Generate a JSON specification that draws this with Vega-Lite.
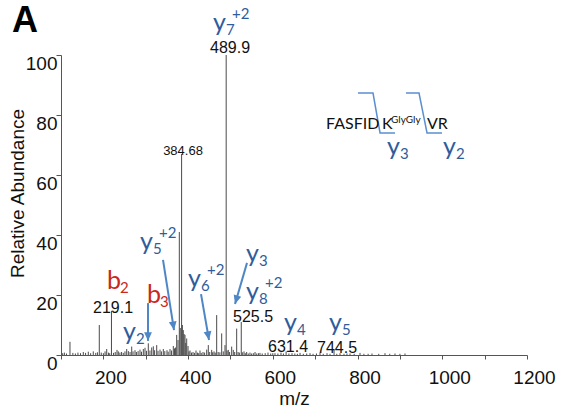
{
  "$schema": "https://vega.github.io/schema/vega-lite/v6.json",
  "width": 466,
  "height": 300,
  "autosize": "none",
  "padding": {"left": 61, "top": 55, "right": 36, "bottom": 58},
  "background": "white",
  "title": {"text": "A", "anchor": "start", "frame": "group", "fontSize": 36, "fontWeight": "bold", "font": "Liberation Sans", "color": "#000", "dx": -49, "dy": 33, "offset": 0},
  "config": {"view": {"stroke": null}},
  "datasets": {
    "peaks": [
      {"mz": 104, "ab": 0.6}, {"mz": 108, "ab": 0.8}, {"mz": 113, "ab": 0.5}, {"mz": 121.2, "ab": 4.4}, {"mz": 128, "ab": 0.7}, {"mz": 134, "ab": 0.5}, {"mz": 140, "ab": 0.8}, {"mz": 146, "ab": 0.6}, {"mz": 152.6, "ab": 1}, {"mz": 158, "ab": 0.7}, {"mz": 164.4, "ab": 1.1}, {"mz": 170, "ab": 0.6}, {"mz": 176.2, "ab": 1.2}, {"mz": 182, "ab": 0.7}, {"mz": 186, "ab": 0.9}, {"mz": 190.4, "ab": 10}, {"mz": 195, "ab": 0.8}, {"mz": 200, "ab": 0.6}, {"mz": 204, "ab": 1.2}, {"mz": 207.9, "ab": 2}, {"mz": 212, "ab": 0.8}, {"mz": 215, "ab": 0.6}, {"mz": 219.1, "ab": 14.7}, {"mz": 224, "ab": 0.7}, {"mz": 228, "ab": 1}, {"mz": 232.2, "ab": 1.7}, {"mz": 235.3, "ab": 1.2}, {"mz": 239, "ab": 0.8}, {"mz": 243, "ab": 1}, {"mz": 247, "ab": 0.7}, {"mz": 251, "ab": 1.2}, {"mz": 255.1, "ab": 2}, {"mz": 259, "ab": 1.3}, {"mz": 263, "ab": 1.0}, {"mz": 266.9, "ab": 2.8}, {"mz": 270, "ab": 1.2}, {"mz": 274.7, "ab": 1.6}, {"mz": 278, "ab": 1.0}, {"mz": 282, "ab": 1.3}, {"mz": 286.5, "ab": 1.8}, {"mz": 290, "ab": 1.1}, {"mz": 294.3, "ab": 2}, {"mz": 298.3, "ab": 2.4}, {"mz": 302, "ab": 1.4}, {"mz": 306.1, "ab": 3.9}, {"mz": 310, "ab": 1.5}, {"mz": 314.1, "ab": 2.5}, {"mz": 317.9, "ab": 2.9}, {"mz": 321, "ab": 1.6}, {"mz": 325.9, "ab": 3.3}, {"mz": 329, "ab": 1.4}, {"mz": 333.7, "ab": 1.8}, {"mz": 337, "ab": 1.2}, {"mz": 341.5, "ab": 2}, {"mz": 345, "ab": 1.3}, {"mz": 350.2, "ab": 1.6}, {"mz": 353, "ab": 1.1}, {"mz": 357.3, "ab": 2}, {"mz": 361, "ab": 1.5}, {"mz": 365.1, "ab": 3}, {"mz": 368, "ab": 2.2}, {"mz": 370.5, "ab": 2.5}, {"mz": 373.1, "ab": 6.7}, {"mz": 376.2, "ab": 5}, {"mz": 379.3, "ab": 41}, {"mz": 381.5, "ab": 9}, {"mz": 384.68, "ab": 67}, {"mz": 386.5, "ab": 10}, {"mz": 388.7, "ab": 8.3}, {"mz": 390.5, "ab": 7}, {"mz": 392.7, "ab": 6.7}, {"mz": 394.5, "ab": 4}, {"mz": 396.7, "ab": 5.5}, {"mz": 399.8, "ab": 3}, {"mz": 402, "ab": 1.2}, {"mz": 404.5, "ab": 1.5}, {"mz": 408, "ab": 0.8}, {"mz": 411.6, "ab": 1}, {"mz": 415, "ab": 0.7}, {"mz": 418.7, "ab": 1.5}, {"mz": 422, "ab": 0.8}, {"mz": 425, "ab": 0.6}, {"mz": 428.1, "ab": 1.5}, {"mz": 431, "ab": 0.7}, {"mz": 435.2, "ab": 1}, {"mz": 439, "ab": 0.8}, {"mz": 443.9, "ab": 1.8}, {"mz": 447.7, "ab": 3.3}, {"mz": 451, "ab": 1.0}, {"mz": 455.7, "ab": 1.7}, {"mz": 458, "ab": 0.9}, {"mz": 461.2, "ab": 1.2}, {"mz": 464, "ab": 0.8}, {"mz": 467.5, "ab": 13.3}, {"mz": 471, "ab": 1.0}, {"mz": 475, "ab": 0.9}, {"mz": 479.3, "ab": 7.2}, {"mz": 483, "ab": 1.2}, {"mz": 487.1, "ab": 3.3}, {"mz": 489.9, "ab": 100}, {"mz": 492, "ab": 1.5}, {"mz": 494.9, "ab": 1.7}, {"mz": 498, "ab": 1.0}, {"mz": 502.9, "ab": 2.8}, {"mz": 506.7, "ab": 1.7}, {"mz": 510, "ab": 1.0}, {"mz": 514.7, "ab": 8.8}, {"mz": 518, "ab": 1.0}, {"mz": 521, "ab": 0.8}, {"mz": 525.5, "ab": 11}, {"mz": 528, "ab": 0.9}, {"mz": 532, "ab": 1.2}, {"mz": 535, "ab": 0.6}, {"mz": 538.3, "ab": 1}, {"mz": 542, "ab": 0.5}, {"mz": 546.1, "ab": 0.8}, {"mz": 550, "ab": 0.5}, {"mz": 554, "ab": 0.6}, {"mz": 558, "ab": 1}, {"mz": 562, "ab": 0.5}, {"mz": 566, "ab": 0.6}, {"mz": 569.7, "ab": 0.7}, {"mz": 575, "ab": 0.5}, {"mz": 582, "ab": 0.6}, {"mz": 588.6, "ab": 0.8}, {"mz": 595, "ab": 0.5}, {"mz": 600, "ab": 0.6}, {"mz": 605.1, "ab": 0.6}, {"mz": 612, "ab": 0.5}, {"mz": 619.3, "ab": 0.8}, {"mz": 625, "ab": 0.5}, {"mz": 631.4, "ab": 1.2}, {"mz": 638, "ab": 0.5}, {"mz": 645.3, "ab": 0.6}, {"mz": 652, "ab": 0.5}, {"mz": 658, "ab": 0.4}, {"mz": 664.2, "ab": 0.7}, {"mz": 672, "ab": 0.4}, {"mz": 680, "ab": 0.5}, {"mz": 687.8, "ab": 0.6}, {"mz": 695, "ab": 0.4}, {"mz": 703, "ab": 0.5}, {"mz": 711.4, "ab": 0.8}, {"mz": 719, "ab": 0.4}, {"mz": 727.9, "ab": 0.6}, {"mz": 735, "ab": 0.4}, {"mz": 744.5, "ab": 1.7}, {"mz": 751, "ab": 0.4}, {"mz": 758.6, "ab": 0.6}, {"mz": 768, "ab": 0.4}, {"mz": 775, "ab": 0.5}, {"mz": 782.2, "ab": 0.5}, {"mz": 792, "ab": 0.4}, {"mz": 805.8, "ab": 0.7}, {"mz": 815, "ab": 0.4}, {"mz": 825, "ab": 0.4}, {"mz": 834.1, "ab": 0.5}, {"mz": 850, "ab": 0.4}, {"mz": 864.8, "ab": 0.6}, {"mz": 876, "ab": 0.4}, {"mz": 888.4, "ab": 0.5}, {"mz": 900, "ab": 0.4}, {"mz": 912, "ab": 0.5}
    ],
    "numbers": [
      {"text": "489.9", "mz": 499.0, "ab": 100.7, "kind": "big"},
      {"text": "384.68", "mz": 388.0, "ab": 66.7, "kind": "small"},
      {"text": "219.1", "mz": 222.8, "ab": 14, "kind": "big"},
      {"text": "525.5", "mz": 553.3, "ab": 11, "kind": "big"},
      {"text": "631.4", "mz": 635.9, "ab": 1, "kind": "big"},
      {"text": "744.5", "mz": 751.6, "ab": 0.7, "kind": "big"}
    ],
    "ions": [
      {"ion": "y", "sub": "7", "sup": "+2", "series": "y", "mz": 458.8, "ab": 108},
      {"ion": "b", "sub": "2", "sup": "", "series": "b", "mz": 208.6, "ab": 22},
      {"ion": "b", "sub": "3", "sup": "", "series": "b", "mz": 303.0, "ab": 17.3},
      {"ion": "y", "sub": "2", "sup": "", "series": "y", "mz": 246.4, "ab": 5},
      {"ion": "y", "sub": "5", "sup": "+2", "series": "y", "mz": 286.5, "ab": 35},
      {"ion": "y", "sub": "6", "sup": "+2", "series": "y", "mz": 399.8, "ab": 22.7},
      {"ion": "y", "sub": "3", "sup": "", "series": "y", "mz": 536.7, "ab": 31},
      {"ion": "y", "sub": "8", "sup": "+2", "series": "y", "mz": 536.7, "ab": 18.3},
      {"ion": "y", "sub": "4", "sup": "", "series": "y", "mz": 626.4, "ab": 8},
      {"ion": "y", "sub": "5", "sup": "", "series": "y", "mz": 732.7, "ab": 8},
      {"ion": "y", "sub": "3", "sup": "", "series": "y", "mz": 869.6, "ab": 66.7},
      {"ion": "y", "sub": "2", "sup": "", "series": "y", "mz": 1001.8, "ab": 66.7}
    ],
    "arrows": [
      {"mz": 305.4, "ab": 17.3, "mz2": 305.4, "ab2": 4.7, "heading": 0},
      {"mz": 340.8, "ab": 31.7, "mz2": 366.8, "ab2": 8.3, "heading": -8.9},
      {"mz": 430.5, "ab": 20.3, "mz2": 449.4, "ab2": 5, "heading": -9.9},
      {"mz": 539.1, "ab": 30.7, "mz2": 510.8, "ab2": 17, "heading": 16.3}
    ],
    "bracket": [
      {"g": "a", "o": 1, "mz": 801.1, "ab": 87.3}, {"g": "a", "o": 2, "mz": 836.5, "ab": 87.3}, {"g": "a", "o": 3, "mz": 853.1, "ab": 74}, {"g": "a", "o": 4, "mz": 888.5, "ab": 74},
      {"g": "b", "o": 1, "mz": 914.4, "ab": 87.3}, {"g": "b", "o": 2, "mz": 945.1, "ab": 87.3}, {"g": "b", "o": 3, "mz": 964.0, "ab": 74}, {"g": "b", "o": 4, "mz": 999.4, "ab": 74}
    ],
    "peptide": [
      {"text": "FASFID", "mz": 725.6, "ab": 75.3, "part": "main"},
      {"text": "K", "mz": 857.8, "ab": 75.3, "part": "main"},
      {"text": "VR", "mz": 964.0, "ab": 75.3, "part": "main"},
      {"text": "GlyGly", "mz": 879.0, "ab": 77.3, "part": "sup"}
    ]
  },
  "layer": [
    {
      "data": {"name": "peaks"},
      "mark": {"type": "rule", "color": "#4a4a4a", "strokeWidth": 1},
      "encoding": {
        "x": {"field": "mz", "type": "quantitative", "scale": {"domain": [100, 1200], "nice": false, "zero": false},
          "axis": {"title": "m/z", "values": [100,150,200,250,300,350,400,450,500,550,600,650,700,750,800,850,900,950,1000,1050,1100,1150,1200],
            "labelExpr": "datum.value % 200 === 0 ? format(datum.value, 'd') : ''", "grid": false,
            "domainColor": "#555", "tickColor": "#555", "tickSize": 4, "labelFont": "Liberation Sans", "labelFontSize": 19, "labelColor": "#111",
            "labelOffset": 7, "labelPadding": 9, "labelFlush": false, "labelOverlap": false, "titleFont": "Liberation Sans", "titleFontSize": 19, "titleFontWeight": "normal", "titleColor": "#111", "titlePadding": 2}},
        "y": {"field": "ab", "type": "quantitative", "scale": {"domain": [0, 100], "nice": false},
          "axis": {"title": "Relative Abundance", "values": [0,5,10,15,20,25,30,35,40,45,50,55,60,65,70,75,80,85,90,95,100],
            "labelExpr": "datum.value % 20 === 0 ? format(datum.value, 'd') : ''", "grid": false,
            "domainColor": "#555", "tickColor": "#555", "tickSize": 5, "labelFont": "Liberation Sans", "labelFontSize": 19, "labelColor": "#111",
            "labelOffset": 8, "labelPadding": -1, "labelFlush": false, "labelOverlap": false, "titleFont": "Liberation Sans", "titleFontSize": 19, "titleFontWeight": "normal", "titleColor": "#111", "titlePadding": -2, "titleY": 138}},
        "y2": {"datum": 0}
      }
    },
    {
      "data": {"name": "numbers"},
      "transform": [{"filter": "datum.kind === 'big'"}],
      "mark": {"type": "text", "font": "Liberation Sans", "fontSize": 16, "color": "#111", "align": "center", "baseline": "alphabetic"},
      "encoding": {"x": {"field": "mz", "type": "quantitative"}, "y": {"field": "ab", "type": "quantitative"}, "text": {"field": "text", "type": "nominal"}}
    },
    {
      "data": {"name": "numbers"},
      "transform": [{"filter": "datum.kind === 'small'"}],
      "mark": {"type": "text", "font": "Liberation Sans", "fontSize": 13, "color": "#111", "align": "center", "baseline": "alphabetic"},
      "encoding": {"x": {"field": "mz", "type": "quantitative"}, "y": {"field": "ab", "type": "quantitative"}, "text": {"field": "text", "type": "nominal"}}
    },
    {
      "data": {"name": "arrows"},
      "mark": {"type": "rule", "color": "#4F86C6", "strokeWidth": 2},
      "encoding": {"x": {"field": "mz", "type": "quantitative"}, "y": {"field": "ab", "type": "quantitative"}, "x2": {"field": "mz2"}, "y2": {"field": "ab2"}}
    },
    {
      "data": {"name": "arrows"},
      "mark": {"type": "point", "shape": "M0,0L-0.45,-1L0.45,-1Z", "filled": true, "color": "#4F86C6", "opacity": 1, "size": 300, "strokeWidth": 0},
      "encoding": {"x": {"field": "mz2", "type": "quantitative"}, "y": {"field": "ab2", "type": "quantitative"}, "angle": {"field": "heading", "type": "quantitative", "scale": null}}
    },
    {
      "data": {"name": "bracket"},
      "mark": {"type": "line", "color": "#5B8FD0", "strokeWidth": 1.5},
      "encoding": {"x": {"field": "mz", "type": "quantitative"}, "y": {"field": "ab", "type": "quantitative"}, "detail": {"field": "g", "type": "nominal"}, "order": {"field": "o", "type": "quantitative"}}
    },
    {
      "data": {"name": "peptide"},
      "transform": [{"filter": "datum.part === 'main'"}],
      "mark": {"type": "text", "font": "Lato", "fontSize": 16, "color": "#111", "align": "left", "baseline": "alphabetic"},
      "encoding": {"x": {"field": "mz", "type": "quantitative"}, "y": {"field": "ab", "type": "quantitative"}, "text": {"field": "text", "type": "nominal"}}
    },
    {
      "data": {"name": "peptide"},
      "transform": [{"filter": "datum.part === 'sup'"}],
      "mark": {"type": "text", "font": "Lato", "fontSize": 10, "color": "#111", "align": "left", "baseline": "alphabetic"},
      "encoding": {"x": {"field": "mz", "type": "quantitative"}, "y": {"field": "ab", "type": "quantitative"}, "text": {"field": "text", "type": "nominal"}}
    },
    {
      "data": {"name": "ions"},
      "mark": {"type": "text", "font": "Lato", "fontSize": 25, "align": "left", "baseline": "alphabetic"},
      "encoding": {"x": {"field": "mz", "type": "quantitative"}, "y": {"field": "ab", "type": "quantitative"}, "text": {"field": "ion", "type": "nominal"},
        "color": {"field": "series", "type": "nominal", "scale": {"domain": ["b", "y"], "range": ["#C8281E", "#2F5D9B"]}, "legend": null}}
    },
    {
      "data": {"name": "ions"},
      "mark": {"type": "text", "font": "Lato", "fontSize": 15, "align": "left", "baseline": "alphabetic", "dx": 13, "dy": 4},
      "encoding": {"x": {"field": "mz", "type": "quantitative"}, "y": {"field": "ab", "type": "quantitative"}, "text": {"field": "sub", "type": "nominal"},
        "color": {"field": "series", "type": "nominal", "legend": null}}
    },
    {
      "data": {"name": "ions"},
      "mark": {"type": "text", "font": "Lato", "fontSize": 15, "align": "left", "baseline": "alphabetic", "dx": 19, "dy": -12},
      "encoding": {"x": {"field": "mz", "type": "quantitative"}, "y": {"field": "ab", "type": "quantitative"}, "text": {"field": "sup", "type": "nominal"},
        "color": {"field": "series", "type": "nominal", "legend": null}}
    }
  ]
}
